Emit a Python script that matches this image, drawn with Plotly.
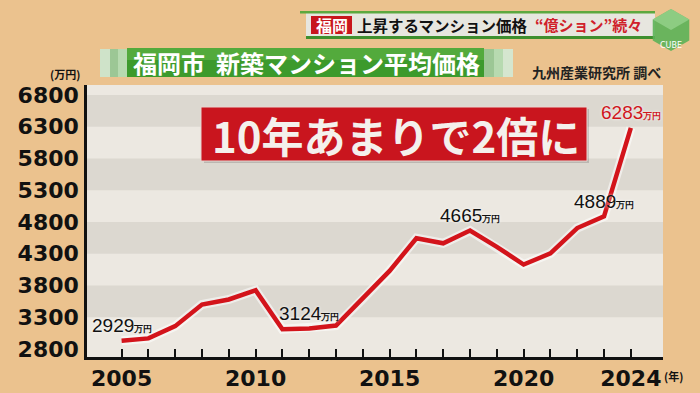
import plotly.graph_objects as go

# ---------------- data ----------------
years = list(range(2005, 2025))
prices = [2929, 2967, 3160, 3500, 3580, 3725, 3110, 3124, 3170, 3590,
          4030, 4545, 4465, 4665, 4410, 4130, 4305, 4705, 4889, 6283]
label_years = [2005, 2012, 2018, 2023, 2024]
y_tickvals = [2800, 3300, 3800, 4300, 4800, 5300, 5800, 6300, 6800]
x_label_years = [2005, 2010, 2015, 2020, 2024]
band_starts = [3300, 4300, 5300, 6300]

# ---------------- geometry helpers ----------------
W, H = 700, 393
L, R, T, B = 87, 663, 85, 357
XR = [2003.71, 2025.2]
YR = [2674, 6958]


def px(x):
    return (x - L) / (R - L)


def py(y):
    return (B - y) / (B - T)


JP = "Noto Sans CJK JP"
NUM = "Liberation Sans Narrow, Arial Narrow, Liberation Sans, sans-serif"

fig = go.Figure()

# glow under the line
fig.add_trace(go.Scatter(x=years, y=prices, mode="lines",
                         line=dict(color="rgba(255,255,255,0.55)", width=9),
                         hoverinfo="skip", showlegend=False))
fig.add_trace(go.Scatter(x=years, y=prices, mode="lines",
                         line=dict(color="#D3141B", width=4.5),
                         showlegend=False))

shapes = []
# alternating bands
for s in band_starts:
    shapes.append(dict(type="rect", xref="x", yref="y", x0=XR[0], x1=XR[1],
                       y0=s, y1=s + 500, fillcolor="#DCD8D0",
                       line=dict(width=0), layer="below"))

# ---- top news banner ----
shapes += [
    dict(type="rect", xref="paper", yref="paper", x0=px(306), x1=px(655),
         y0=py(38), y1=py(12), fillcolor="#E7E6DF", line=dict(width=0)),
    dict(type="rect", xref="paper", yref="paper", x0=px(300), x1=px(655),
         y0=py(13.5), y1=py(11), fillcolor="#5DA83F", line=dict(width=0)),
    dict(type="rect", xref="paper", yref="paper", x0=px(306), x1=px(655),
         y0=py(39), y1=py(36), fillcolor="#3E8F2E", line=dict(width=0)),
    dict(type="rect", xref="paper", yref="paper", x0=px(311), x1=px(352),
         y0=py(34), y1=py(16), fillcolor="#C8161D", line=dict(width=0)),
]
# CUBE logo (hexagon)
cx, cy, r = 671, 30, 21
hexpts = [(cx, cy - r), (cx + 0.87 * r, cy - 0.5 * r), (cx + 0.87 * r, cy + 0.5 * r),
          (cx, cy + r), (cx - 0.87 * r, cy + 0.5 * r), (cx - 0.87 * r, cy - 0.5 * r)]
path = "M " + " L ".join(f"{px(a):.5f},{py(b):.5f}" for a, b in hexpts) + " Z"
shapes.append(dict(type="path", xref="paper", yref="paper", path=path,
                   fillcolor="rgba(92,178,88,0.9)", line=dict(width=0)))
toppts = [(cx, cy - r), (cx + 0.87 * r, cy - 0.5 * r), (cx, cy), (cx - 0.87 * r, cy - 0.5 * r)]
path2 = "M " + " L ".join(f"{px(a):.5f},{py(b):.5f}" for a, b in toppts) + " Z"
shapes.append(dict(type="path", xref="paper", yref="paper", path=path2,
                   fillcolor="rgba(150,210,140,0.8)", line=dict(width=0)))

# ---- green title bar ----
shapes += [
    dict(type="rect", xref="paper", yref="paper", x0=px(100), x1=px(110),
         y0=py(77), y1=py(49), fillcolor="#CFE3C9", line=dict(width=0)),
    dict(type="rect", xref="paper", yref="paper", x0=px(110), x1=px(118),
         y0=py(77), y1=py(49), fillcolor="#9CC795", line=dict(width=0)),
    dict(type="rect", xref="paper", yref="paper", x0=px(118), x1=px(127),
         y0=py(77), y1=py(49), fillcolor="#B7DAB0", line=dict(width=0)),
    dict(type="rect", xref="paper", yref="paper", x0=px(127), x1=px(484),
         y0=py(77), y1=py(48), fillcolor="#3C9A2C", line=dict(width=0)),
    dict(type="rect", xref="paper", yref="paper", x0=px(127), x1=px(484),
         y0=py(60), y1=py(48), fillcolor="rgba(110,190,80,0.45)", line=dict(width=0)),
    dict(type="rect", xref="paper", yref="paper", x0=px(484), x1=px(494),
         y0=py(77), y1=py(49), fillcolor="#9CC795", line=dict(width=0)),
    dict(type="rect", xref="paper", yref="paper", x0=px(494), x1=px(503),
         y0=py(77), y1=py(49), fillcolor="#B7DAB0", line=dict(width=0)),
    dict(type="rect", xref="paper", yref="paper", x0=px(503), x1=px(513),
         y0=py(77), y1=py(49), fillcolor="#D5E6CF", line=dict(width=0)),
]

# ---- red headline box ----
shapes += [
    dict(type="rect", xref="paper", yref="paper", x0=px(204), x1=px(589),
         y0=py(163), y1=py(109), fillcolor="rgba(0,0,0,0.15)", line=dict(width=0)),
    dict(type="rect", xref="paper", yref="paper", x0=px(201), x1=px(587),
         y0=py(161), y1=py(107), fillcolor="#C9151E",
         line=dict(color="#E8D6D0", width=1)),
]

anns = []
# data labels
for yr in label_years:
    v = prices[years.index(yr)]
    red = yr == 2024
    col = "#D0161D" if red else "#111111"
    anns.append(dict(
        x=yr, y=v, xref="x", yref="y", showarrow=False, yshift=15,
        text=f"{v}<span style='font-size:9px;font-weight:bold'>万円</span>",
        font=dict(family=NUM, size=19, color=col,
                  shadow="0px 0px 3px #ffffff"),
    ))

# units
anns.append(dict(x=px(82), y=py(74), xref="paper", yref="paper", showarrow=False,
                 xanchor="right", yanchor="middle", text="(万円)",
                 font=dict(family=JP, size=11, color="#111111", weight="bold")))
anns.append(dict(x=px(662), y=py(376), xref="paper", yref="paper", showarrow=False,
                 xanchor="left", yanchor="middle", text="(年)",
                 font=dict(family=JP, size=11, color="#111111", weight="bold")))
# top banner texts
anns.append(dict(x=px(331.5), y=py(25), xref="paper", yref="paper", showarrow=False,
                 xanchor="center", yanchor="middle", text="福岡",
                 font=dict(family=JP, size=16, color="#FFFFFF", weight="bold")))
anns.append(dict(x=px(355), y=py(25), xref="paper", yref="paper", showarrow=False,
                 xanchor="left", yanchor="middle", text="上昇するマンション価格",
                 font=dict(family=JP, size=15.5, color="#111111", weight="bold")))
anns.append(dict(x=px(533), y=py(25), xref="paper", yref="paper", showarrow=False,
                 xanchor="left", yanchor="middle", text="“億ション”続々",
                 font=dict(family=JP, size=15, color="#D0202A", weight="bold")))
anns.append(dict(x=px(671), y=py(45), xref="paper", yref="paper", showarrow=False,
                 xanchor="center", yanchor="middle", text="CUBE",
                 font=dict(family="DejaVu Sans", size=8, color="#FFFFFF")))
# green title
anns.append(dict(x=px(306), y=py(62.5), xref="paper", yref="paper", showarrow=False,
                 xanchor="center", yanchor="middle", text="福岡市  新築マンション平均価格",
                 font=dict(family=JP, size=24, color="#FFFFFF", weight="bold")))
# source
anns.append(dict(x=px(596), y=py(72), xref="paper", yref="paper", showarrow=False,
                 xanchor="center", yanchor="middle", text="九州産業研究所 調べ",
                 font=dict(family=JP, size=14, color="#222222", weight="bold")))
# headline
anns.append(dict(x=px(396), y=py(134), xref="paper", yref="paper", showarrow=False,
                 xanchor="center", yanchor="middle", text="10年あまりで2倍に",
                 font=dict(family=JP, size=42, color="#F4F0EC", weight="bold")))

fig.update_layout(
    width=W, height=H, autosize=False,
    margin=dict(l=L, r=W - R, t=T, b=H - B, pad=0),
    paper_bgcolor="#EBC28E",
    plot_bgcolor="#ECE8E1",
    shapes=shapes, annotations=anns,
    showlegend=False,
    xaxis=dict(range=XR, showgrid=False, zeroline=False, automargin=False,
               showline=True, linecolor="#111111", linewidth=2.5,
               ticks="inside", ticklen=8, tickwidth=2, tickcolor="#111111",
               tickvals=years,
               ticktext=[str(y) if y in x_label_years else "" for y in years],
               tickfont=dict(family="DejaVu Sans", size=22, color="#111111", weight="bold"),
               fixedrange=True),
    yaxis=dict(range=YR, showgrid=False, zeroline=False, automargin=False,
               showline=True, linecolor="#111111", linewidth=2.5,
               ticks="", tickvals=y_tickvals,
               ticktext=[str(v) for v in y_tickvals],
               ticklabelstandoff=1,
               tickfont=dict(family="DejaVu Sans", size=22, color="#111111", weight="bold"),
               fixedrange=True),
)

fig.write_html("out.html",
               config={"displayModeBar": False},
               post_script="document.body.style.margin='0px';"
                           "document.body.style.overflow='hidden';")
